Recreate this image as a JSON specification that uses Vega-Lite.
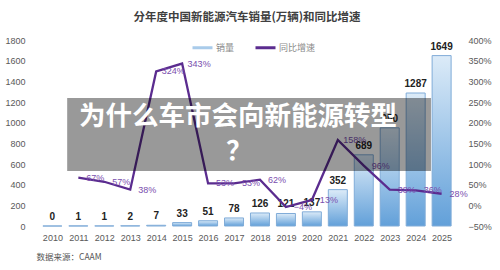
{
  "$schema": "https://vega.github.io/schema/vega-lite/v6.json",
  "width": 434,
  "height": 186,
  "autosize": {"type": "none"},
  "padding": {"left": 30, "top": 40, "right": 36, "bottom": 44},
  "background": "white",
  "title": {
    "text": "分年度中国新能源汽车销量(万辆)和同比增速",
    "font": "Noto Sans CJK SC",
    "fontSize": 11.5,
    "fontWeight": "bold",
    "color": "#404040",
    "anchor": "middle",
    "offset": 13
  },
  "config": {
    "view": {"stroke": null},
    "font": "Liberation Sans",
    "axis": {
      "labelColor": "#595959",
      "labelFontSize": 9,
      "labelFont": "Liberation Sans",
      "labelOverlap": false,
      "ticks": false,
      "domain": false,
      "grid": false
    }
  },
  "data": {
    "values": [
      {"year": 2010, "sales": 0, "growth": null},
      {"year": 2011, "sales": 1, "growth": 0.67},
      {"year": 2012, "sales": 1, "growth": 0.57},
      {"year": 2013, "sales": 2, "growth": 0.38},
      {"year": 2014, "sales": 7, "growth": 3.24},
      {"year": 2015, "sales": 33, "growth": 3.43},
      {"year": 2016, "sales": 51, "growth": 0.53},
      {"year": 2017, "sales": 78, "growth": 0.53},
      {"year": 2018, "sales": 126, "growth": 0.62},
      {"year": 2019, "sales": 121, "growth": -0.04},
      {"year": 2020, "sales": 137, "growth": 0.13},
      {"year": 2021, "sales": 352, "growth": 1.58},
      {"year": 2022, "sales": 689, "growth": 0.96},
      {"year": 2023, "sales": 950, "growth": 0.38},
      {"year": 2024, "sales": 1287, "growth": 0.36},
      {"year": 2025, "sales": 1649, "growth": 0.28}
    ]
  },
  "layer": [
    {
      "encoding": {
        "x": {
          "field": "year",
          "type": "quantitative",
          "scale": {"domain": [2009.33, 2025.67], "nice": false, "zero": false},
          "axis": {
            "values": [2010, 2011, 2012, 2013, 2014, 2015, 2016, 2017, 2018, 2019, 2020, 2021, 2022, 2023, 2024, 2025],
            "format": "d",
            "labelOverlap": false,
            "labelSeparation": 0,
            "labelPadding": 7,
            "labelFlush": false,
            "title": "数据来源：CAAM",
            "titleFont": "Noto Sans CJK SC",
            "titleFontSize": 8.5,
            "titleFontWeight": "normal",
            "titleColor": "#555555",
            "titleAnchor": "start",
            "titleAlign": "left",
            "titleBaseline": "middle",
            "titleX": 6,
            "titleY": 30
          }
        },
        "y": {
          "field": "sales",
          "type": "quantitative",
          "scale": {"domain": [0, 1800], "nice": false},
          "axis": {
            "orient": "left",
            "values": [0, 200, 400, 600, 800, 1000, 1200, 1400, 1600, 1800],
            "format": "d",
            "labelPadding": 5,
            "title": null
          }
        }
      },
      "layer": [
        {
          "mark": {
            "type": "bar",
            "size": 19,
            "fill": {
              "gradient": "linear",
              "x1": 0, "y1": 0, "x2": 0, "y2": 1,
              "stops": [
                {"offset": 0, "color": "#dcebf8"},
                {"offset": 1, "color": "#62a0d9"}
              ]
            },
            "stroke": "#80acd8",
            "strokeWidth": 1
          }
        },
        {
          "mark": {
            "type": "text",
            "baseline": "bottom",
            "dy": -4,
            "fontSize": 10,
            "fontWeight": "bold",
            "color": "#222222"
          },
          "encoding": {
            "text": {"field": "sales", "type": "quantitative", "format": "d"}
          }
        }
      ]
    },
    {
      "encoding": {
        "x": {
          "field": "year",
          "type": "quantitative",
          "scale": {"domain": [2009.33, 2025.67], "nice": false, "zero": false},
          "axis": null
        },
        "y": {
          "field": "growth",
          "type": "quantitative",
          "scale": {"domain": [-0.5, 4], "nice": false, "zero": false},
          "axis": {
            "orient": "right",
            "values": [-0.5, 0, 0.5, 1, 1.5, 2, 2.5, 3, 3.5, 4],
            "format": ".0%",
            "labelPadding": 4,
            "title": null
          }
        }
      },
      "layer": [
        {
          "mark": {"type": "line", "strokeWidth": 2.3, "color": "#5b2c8f"},
          "encoding": {
            "color": {
              "datum": "同比增速",
              "scale": {"domain": ["销量", "同比增速"], "range": ["#a9cbea", "#5b2c8f"]},
              "legend": {
                "orient": "none",
                "legendX": 161,
                "legendY": -4,
                "direction": "horizontal",
                "title": null,
                "labelFont": "Noto Sans CJK SC",
                "labelFontSize": 9,
                "labelColor": "#8a8a8a",
                "labelOffset": 2,
                "columnPadding": 14,
                "symbolSize": 400,
                "symbolType": "stroke",
                "symbolStrokeWidth": 3
              }
            }
          }
        },
        {
          "mark": {
            "type": "text",
            "dx": 17,
            "align": "center",
            "baseline": "middle",
            "fontSize": 9,
            "color": "#7a4eae"
          },
          "encoding": {
            "text": {"field": "growth", "type": "quantitative", "format": ".0%"}
          }
        }
      ]
    },
    {
      "data": {"values": [{"caption": "为什么车市会向新能源转型", "mark": "？"}]},
      "layer": [
        {
          "mark": {"type": "rect", "fill": "#000000", "fillOpacity": 0.4},
          "encoding": {
            "x": {"datum": 2010.57, "type": "quantitative", "scale": {"domain": [2009.33, 2025.67], "nice": false, "zero": false}, "axis": null},
            "x2": {"datum": 2024.59},
            "y": {"datum": 1239, "type": "quantitative", "scale": {"domain": [0, 1800], "nice": false}, "axis": null},
            "y2": {"datum": 532}
          }
        },
        {
          "mark": {
            "type": "text",
            "font": "Noto Sans CJK SC",
            "fontSize": 26.5,
            "fontWeight": "bold",
            "color": "#ffffff",
            "align": "center",
            "baseline": "middle"
          },
          "encoding": {
            "text": {"field": "caption", "type": "nominal"},
            "x": {"datum": 2017.15, "type": "quantitative", "scale": {"domain": [2009.33, 2025.67], "nice": false, "zero": false}, "axis": null},
            "y": {"datum": 1055, "type": "quantitative", "scale": {"domain": [0, 1800], "nice": false}, "axis": null}
          }
        },
        {
          "mark": {
            "type": "text",
            "font": "Noto Sans CJK SC",
            "fontSize": 26.5,
            "fontWeight": "bold",
            "color": "#ffffff",
            "align": "center",
            "baseline": "middle"
          },
          "encoding": {
            "text": {"field": "mark", "type": "nominal"},
            "x": {"datum": 2017.2, "type": "quantitative", "scale": {"domain": [2009.33, 2025.67], "nice": false, "zero": false}, "axis": null},
            "y": {"datum": 716, "type": "quantitative", "scale": {"domain": [0, 1800], "nice": false}, "axis": null}
          }
        }
      ]
    }
  ],
  "resolve": {"scale": {"y": "independent"}, "axis": {"x": "independent", "y": "independent"}}
}
